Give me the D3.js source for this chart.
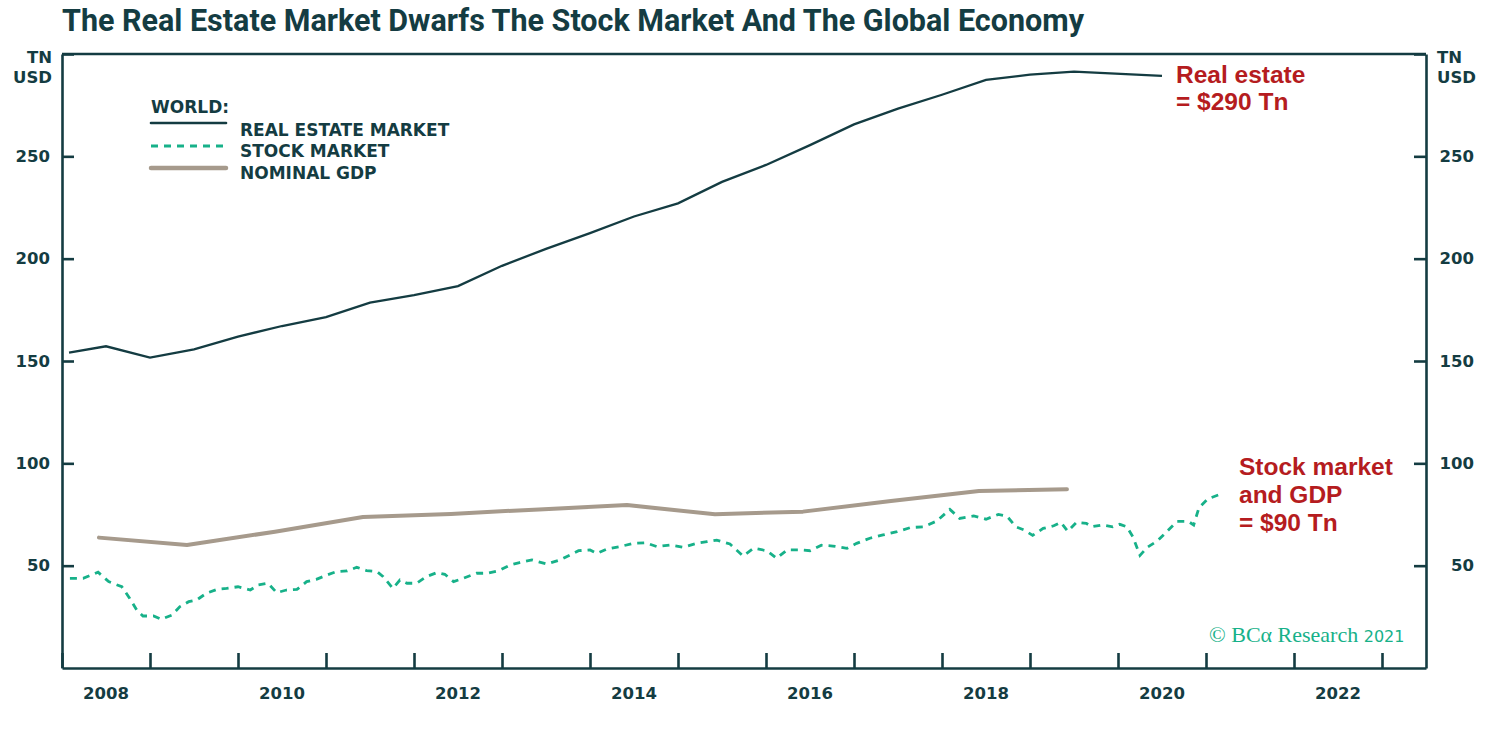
<html>
  <head>
    <title>Real Estate vs Stock Market</title>
    <script src="https://d3js.org/d3.v7.min.js"></script>
    <style>
      body { margin: 0; background: #fff; }
      .axis path, .axis line { stroke: #143c42; stroke-width: 2.6px; }
      .axis text { fill: #143c42; font-family: "DejaVu Sans"; font-weight: bold; font-size: 16.5px; }
    </style>
  </head>
  <body>
    <svg id="chart" width="1490" height="730"></svg>

    <script>
    // --- data (decimal years, TN USD) ---
    const realEstateYears  = [2008.08, 2008.5, 2009.0, 2009.5, 2010.0, 2010.5, 2011.0, 2011.5, 2012.0, 2012.5,
                              2013.0, 2013.5, 2014.0, 2014.5, 2015.0, 2015.5, 2016.0, 2016.5, 2017.0, 2017.5,
                              2018.0, 2018.5, 2019.0, 2019.5, 2020.5];
    const realEstateValues = [154.1, 157.2, 151.7, 155.7, 161.9, 167.1, 171.4, 178.5, 182.2, 186.6,
                              196.5, 204.8, 212.5, 220.6, 227.0, 237.5, 245.8, 255.5, 265.6, 273.3,
                              280.1, 287.4, 289.9, 291.4, 289.3];

    const stockYears  = [2008.09, 2008.24, 2008.41, 2008.53, 2008.68, 2008.77, 2008.85, 2008.92, 2009.04, 2009.13,
                         2009.25, 2009.34, 2009.44, 2009.53, 2009.64, 2009.76, 2009.87, 2010.0, 2010.14, 2010.23,
                         2010.34, 2010.44, 2010.55, 2010.67, 2010.78, 2010.89, 2011.01, 2011.12, 2011.24, 2011.35,
                         2011.46, 2011.58, 2011.65, 2011.76, 2011.84, 2011.92, 2012.03, 2012.14, 2012.26, 2012.35,
                         2012.45, 2012.56, 2012.71, 2012.83, 2012.96, 2013.09, 2013.2, 2013.34, 2013.51, 2013.66,
                         2013.87, 2014.0, 2014.08, 2014.19, 2014.34, 2014.49, 2014.63, 2014.76, 2014.91, 2015.06,
                         2015.21, 2015.33, 2015.44, 2015.59, 2015.74, 2015.86, 2016.01, 2016.12, 2016.24, 2016.39,
                         2016.5, 2016.63, 2016.76, 2016.92, 2017.03, 2017.18, 2017.33, 2017.49, 2017.64, 2017.79,
                         2017.94, 2018.09, 2018.2, 2018.36, 2018.5, 2018.64, 2018.74, 2018.84, 2018.94, 2019.03,
                         2019.15, 2019.27, 2019.35, 2019.43, 2019.53, 2019.64, 2019.7, 2019.82, 2019.94, 2020.02,
                         2020.1, 2020.17, 2020.25, 2020.33, 2020.45, 2020.57, 2020.67, 2020.8, 2020.86, 2020.92,
                         2021.02, 2021.2];
    const stockValues = [43.8, 43.8, 46.8, 42.2, 39.7, 34.0, 28.3, 25.4, 25.4, 23.8,
                         25.9, 30.0, 32.4, 33.2, 36.5, 38.4, 38.9, 39.7, 38.1, 40.6,
                         41.4, 36.8, 38.1, 38.4, 42.2, 43.3, 45.4, 47.1, 47.4, 49.2,
                         47.6, 47.1, 44.6, 38.9, 43.0, 41.4, 41.4, 44.6, 46.6, 45.8,
                         42.2, 43.8, 46.3, 46.3, 47.5, 50.3, 51.5, 52.8, 50.8, 52.8,
                         57.3, 57.7, 56.0, 58.1, 59.3, 60.9, 61.2, 59.3, 60.1, 59.0,
                         60.9, 61.7, 62.5, 60.6, 54.7, 58.5, 57.3, 53.6, 57.7, 57.7,
                         57.3, 60.0, 59.6, 58.5, 60.9, 63.4, 65.0, 66.6, 68.6, 69.0,
                         71.8, 77.5, 73.1, 74.3, 72.7, 75.0, 74.1, 69.0, 67.3, 64.8,
                         68.2, 69.5, 71.2, 66.8, 71.2, 70.7, 69.0, 69.9, 69.0, 70.2,
                         69.0, 64.0, 55.0, 58.9, 62.2, 67.3, 71.6, 71.6, 69.9, 78.3,
                         82.6, 85.5];

    const gdpYears  = [2008.42, 2009.42, 2010.42, 2011.42, 2012.42, 2013.42, 2014.42, 2015.42, 2016.42, 2017.42, 2018.42, 2019.42];
    const gdpValues = [63.7, 60.1, 66.6, 73.8, 75.3, 77.5, 79.6, 75.1, 76.4, 81.6, 86.5, 87.3];

    const yTicks = [50, 100, 150, 200, 250, 300];
    const xTicks = d3.range(2008, 2024);
    const yearLabels = [2008, 2010, 2012, 2014, 2016, 2018, 2020, 2022];

    const ink = "#143c42";
    const red = "#b51c20";
    const green = "#17b189";
    const tan = "#a69a8c";

    const svg = d3.select("svg#chart");

    const x = d3.scaleLinear().domain([2008, 2023.5]).range([62, 1426]);
    const y = d3.scaleLinear().domain([0, 300]).range([668, 54]);

    // title
    svg.append("text")
      .attr("x", 62).attr("y", 31)
      .attr("textLength", 1022).attr("lengthAdjust", "spacingAndGlyphs")
      .style("font-family", "Roboto").style("font-weight", "bold").style("font-size", "32px")
      .style("fill", ink)
      .text("The Real Estate Market Dwarfs The Stock Market And The Global Economy");

    // frame: top line
    svg.append("line")
      .attr("x1", x(2008)).attr("x2", x(2023.5))
      .attr("y1", y(300)).attr("y2", y(300))
      .attr("stroke", ink).attr("stroke-width", 2.4);

    // left axis
    svg.append("g").attr("class", "axis")
      .attr("transform", "translate(" + x(2008) + ",0)")
      .call(d3.axisLeft(y).tickValues(yTicks).tickSizeInner(-12).tickSizeOuter(0).tickPadding(12)
              .tickFormat(d => d === 300 ? "" : d));

    // right axis
    let rightAxis = svg.append("g").attr("class", "axis")
      .attr("transform", "translate(" + x(2023.5) + ",0)")
      .call(d3.axisRight(y).tickValues(yTicks).tickSizeInner(-12).tickSizeOuter(0).tickPadding(12)
              .tickFormat(d => d === 300 ? "" : d));
    rightAxis.selectAll("text").attr("text-anchor", "end").attr("x", 48);

    // bottom axis
    svg.append("g").attr("class", "axis")
      .attr("transform", "translate(0," + y(0) + ")")
      .call(d3.axisBottom(x).tickValues(xTicks).tickSizeInner(-15).tickSizeOuter(0).tickFormat(""));

    svg.selectAll("text.yearLabel").data(yearLabels)
      .join("text").attr("class", "yearLabel")
      .attr("x", d => x(d + 0.5)).attr("y", 699)
      .attr("text-anchor", "middle")
      .style("font-family", "DejaVu Sans").style("font-weight", "bold").style("font-size", "16.5px")
      .style("fill", ink)
      .text(d => d);

    // units
    [["TN", 63], ["USD", 83]].forEach(u => {
      svg.append("text").attr("x", 52).attr("y", u[1]).attr("text-anchor", "end")
        .style("font-family", "DejaVu Sans").style("font-weight", "bold").style("font-size", "16.5px")
        .style("fill", ink).text(u[0]);
      svg.append("text").attr("x", 1437).attr("y", u[1])
        .style("font-family", "DejaVu Sans").style("font-weight", "bold").style("font-size", "16.5px")
        .style("fill", ink).text(u[0]);
    });

    // lines
    const lineGen = d3.line().x(d => x(d[0])).y(d => y(d[1]));

    svg.append("path")
      .datum(gdpYears.map((d, i) => [d, gdpValues[i]]))
      .attr("fill", "none").attr("stroke", tan).attr("stroke-width", 4)
      .attr("stroke-linecap", "round").attr("stroke-linejoin", "round")
      .attr("d", lineGen);

    svg.append("path")
      .datum(stockYears.map((d, i) => [d, stockValues[i]]))
      .attr("fill", "none").attr("stroke", green).attr("stroke-width", 2.8)
      .attr("stroke-dasharray", "7,6")
      .attr("d", lineGen);

    svg.append("path")
      .datum(realEstateYears.map((d, i) => [d, realEstateValues[i]]))
      .attr("fill", "none").attr("stroke", ink).attr("stroke-width", 2.3)
      .attr("d", lineGen);

    // legend
    const legend = svg.append("g");
    legend.append("text").attr("x", 151).attr("y", 113)
      .style("font-family", "DejaVu Sans").style("font-weight", "bold").style("font-size", "17px")
      .style("fill", ink).text("WORLD:");
    const legendItems = [
      {label: "REAL ESTATE MARKET", color: ink, width: 2.6, dash: null, ly: 123, ty: 136},
      {label: "STOCK MARKET", color: green, width: 2.8, dash: "7,6", ly: 146, ty: 157},
      {label: "NOMINAL GDP", color: tan, width: 4.5, dash: null, ly: 168, ty: 179}
    ];
    legendItems.forEach(it => {
      legend.append("line").attr("x1", 151).attr("x2", 226).attr("y1", it.ly).attr("y2", it.ly)
        .attr("stroke", it.color).attr("stroke-width", it.width)
        .attr("stroke-dasharray", it.dash)
        .attr("stroke-linecap", it.dash ? "butt" : "round");
      legend.append("text").attr("x", 240).attr("y", it.ty)
        .style("font-family", "DejaVu Sans").style("font-weight", "bold").style("font-size", "17px")
        .style("fill", ink).text(it.label);
    });

    // annotations
    [["Real estate", 1176, 83], ["= $290 Tn", 1176, 110],
     ["Stock market", 1239, 475], ["and GDP", 1239, 503], ["= $90 Tn", 1239, 531]].forEach(a => {
      svg.append("text").attr("x", a[1]).attr("y", a[2])
        .style("font-family", "Liberation Sans").style("font-weight", "bold").style("font-size", "24.5px")
        .style("fill", red).text(a[0]);
    });

    // source
    let src = svg.append("text").attr("x", 1209).attr("y", 642).style("fill", green);
    src.append("tspan").style("font-family", "Liberation Serif").style("font-size", "22px").text("© BCα Research ");
    src.append("tspan").style("font-family", "DejaVu Sans").style("font-size", "16px").text("2021");

    </script>
  </body>
</html>
